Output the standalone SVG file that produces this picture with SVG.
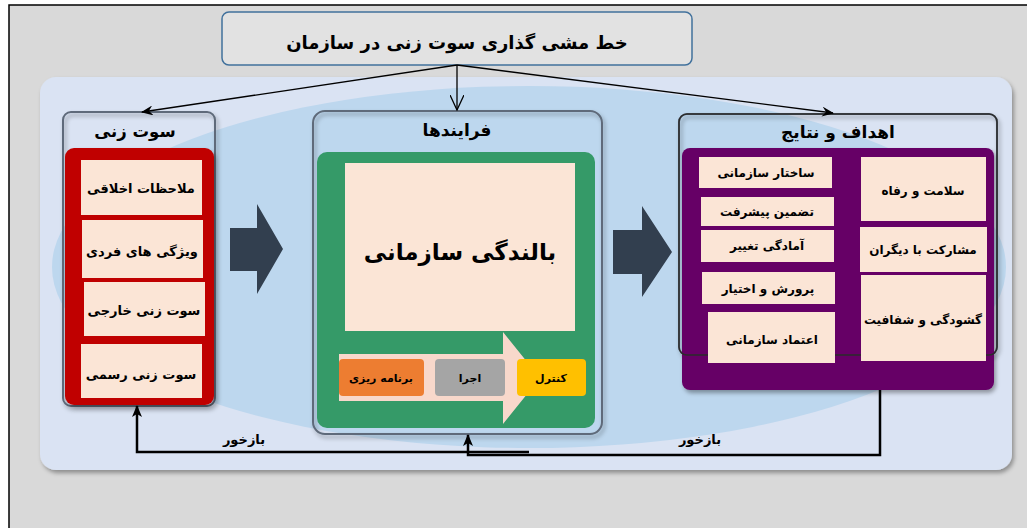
<svg xmlns="http://www.w3.org/2000/svg" width="1027" height="528" viewBox="0 0 1027 528">
<defs>
<style>
.t{font-family:"DejaVu Sans",sans-serif;font-weight:bold;fill:#000;text-anchor:middle;dominant-baseline:central}
.pale{fill:#fbe5d6}
.cont{fill:none;stroke:#5f6b7a;stroke-width:2}
.fb{fill:none;stroke:#000;stroke-width:2.5}
.con{fill:none;stroke:#000;stroke-width:1.3}
.big{fill:#323f4f}
</style>
<filter id="sh" x="-10%" y="-10%" width="125%" height="125%">
<feDropShadow dx="2" dy="3" stdDeviation="2" flood-color="#000" flood-opacity="0.35"/>
</filter>
<marker id="ah" viewBox="0 0 12 10" refX="11" refY="5" markerWidth="12" markerHeight="10" markerUnits="userSpaceOnUse" orient="auto">
<path d="M0,0 L12,5 L0,10 L4,5 Z" fill="#000"/>
</marker>
<marker id="av" viewBox="0 0 16 14" refX="15" refY="7" markerWidth="16" markerHeight="14" markerUnits="userSpaceOnUse" orient="auto">
<path d="M0,0 L15,7 L0,14" fill="none" stroke="#000" stroke-width="1.3"/>
</marker>
<marker id="af" viewBox="0 0 12 10" refX="11" refY="5" markerWidth="12" markerHeight="10" markerUnits="userSpaceOnUse" orient="auto">
<path d="M0,0 L12,5 L0,10 L3,5 Z" fill="#000"/>
</marker>
</defs>

<rect x="0" y="0" width="1027" height="528" fill="#ffffff"/>
<rect id="frame" x="9" y="5" width="1030" height="540" fill="#d9d9d9" stroke="#000" stroke-width="1.5"/>

<g id="background">
<rect x="40" y="77" width="972" height="393" rx="16" fill="#dae3f3" filter="url(#sh)"/>
<clipPath id="bgclip"><rect x="40" y="77" width="972" height="393" rx="16"/></clipPath>
<ellipse cx="529" cy="267" rx="477" ry="181" fill="#bdd7ee" clip-path="url(#bgclip)"/>
</g>

<g id="title">
<rect x="222" y="12" width="470" height="53" rx="7" fill="#e2e2e2" stroke="#41719c" stroke-width="1.5"/>
<text class="t" x="457" y="42" font-size="18">خط مشی گذاری سوت زنی در سازمان</text>
</g>

<g id="whistle">
<rect class="cont" x="63" y="112" width="152" height="294" rx="8" filter="url(#sh)"/>
<text class="t" x="135" y="131" font-size="16.5">سوت زنی</text>
<rect x="65" y="148" width="149" height="257" rx="9" fill="#c00000" filter="url(#sh)"/>
<rect class="pale" x="81" y="160" width="121" height="55"/>
<text class="t" x="141" y="188" font-size="13">ملاحظات اخلاقی</text>
<rect class="pale" x="82" y="220" width="121" height="58"/>
<text class="t" x="142" y="251" font-size="13">ویژگی های فردی</text>
<rect class="pale" x="84" y="282" width="121" height="54"/>
<text class="t" x="144" y="310" font-size="13">سوت زنی خارجی</text>
<rect class="pale" x="81" y="344" width="121" height="54"/>
<text class="t" x="141" y="374" font-size="13">سوت زنی رسمی</text>
</g>

<g id="arrow1">
<path class="big" d="M230,228 H257 V204 L283,249 L257,294 V271 H230 Z"/>
</g>

<g id="processes">
<rect class="cont" x="313" y="111" width="289" height="323" rx="12" filter="url(#sh)"/>
<text class="t" x="457" y="130" font-size="17">فرایندها</text>
<rect x="317" y="152" width="278" height="276" rx="10" fill="#359a68"/>
<rect class="pale" x="345" y="163" width="230" height="168"/>
<text class="t" x="460" y="252" font-size="23">بالندگی سازمانی</text>
<path d="M339,354 H503 V332 L540,378 L503,424 V401 H339 Z" fill="#f8d8cb"/>
<rect x="339" y="359" width="85" height="37" rx="4" fill="#ed7d31"/>
<text class="t" x="381" y="378" font-size="11">برنامه ریزی</text>
<rect x="435" y="359" width="70" height="37" rx="4" fill="#a5a5a5"/>
<text class="t" x="470" y="378" font-size="11">اجرا</text>
<rect x="517" y="359" width="69" height="37" rx="4" fill="#ffc000"/>
<text class="t" x="551" y="378" font-size="11">کنترل</text>
</g>

<g id="arrow2">
<path class="big" d="M613,230 H642 V206 L672,252 L642,297 V274 H613 Z"/>
</g>

<g id="goals">
<rect class="cont" x="679" y="114" width="318" height="241" rx="8" filter="url(#sh)"/>
<text class="t" x="838" y="132" font-size="17">اهداف و نتایج</text>
<rect x="682" y="148" width="312" height="242" rx="8" fill="#660066" filter="url(#sh)"/>
<rect x="679" y="114" width="318" height="241" rx="8" fill="none" stroke="#2b2b2b" stroke-width="1.5"/>
<rect class="pale" x="699" y="157" width="133" height="31"/>
<text class="t" x="766" y="173" font-size="12">ساختار سازمانی</text>
<rect class="pale" x="701" y="197" width="133" height="29"/>
<text class="t" x="767" y="212" font-size="12">تضمین پیشرفت</text>
<rect class="pale" x="701" y="230" width="133" height="32"/>
<text class="t" x="767" y="246" font-size="12">آمادگی تغییر</text>
<rect class="pale" x="702" y="272" width="133" height="32"/>
<text class="t" x="768" y="289" font-size="12">پرورش و اختیار</text>
<rect class="pale" x="708" y="312" width="127" height="51"/>
<text class="t" x="772" y="340" font-size="12">اعتماد سازمانی</text>
<rect class="pale" x="861" y="157" width="125" height="64"/>
<text class="t" x="923" y="191" font-size="12">سلامت و رفاه</text>
<rect class="pale" x="860" y="227" width="127" height="45"/>
<text class="t" x="923" y="250" font-size="12">مشارکت با دیگران</text>
<rect class="pale" x="861" y="275" width="125" height="86"/>
<text class="t" x="923" y="320" font-size="12">گشودگی و شفافیت</text>
</g>

<g id="connectors">
<path class="con" d="M457,65 L142,112" marker-end="url(#ah)"/>
<path class="con" d="M457,65 L457,110" marker-end="url(#av)"/>
<path class="con" d="M457,65 L833,113" marker-end="url(#ah)"/>
<path class="fb" d="M880,390 V455 H468 V435" marker-end="url(#af)"/>
<path class="fb" d="M529,452 H137 V406" marker-end="url(#af)"/>
</g>

<g id="labels">
<text class="t" x="244" y="439" font-size="13">بازخور</text>
<text class="t" x="700" y="439" font-size="13">بازخور</text>
</g>
</svg>
